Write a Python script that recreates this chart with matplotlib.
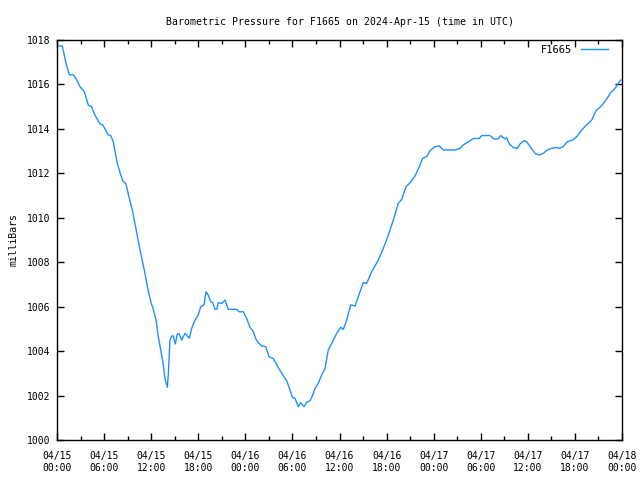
import datetime as dt
import numpy as np
import matplotlib
matplotlib.use("Agg")
import matplotlib.pyplot as plt
import matplotlib.dates as mdates

# hours since 2024-04-15 00:00 UTC and pressure in millibars
hours = [0.25, 0.38, 0.68, 1.15, 1.57, 2.08, 2.38, 2.93, 3.48, 3.99, 4.42, 4.72,
         5.48, 5.82, 6.54, 6.84, 7.17, 7.68, 8.12, 8.37, 8.79, 9.21, 9.60, 10.58,
         11.21, 11.64, 12.07, 12.20, 12.62, 12.91, 13.22, 13.55, 13.76, 14.06,
         14.18, 14.31, 14.40, 14.62, 14.82, 15.08, 15.33, 15.59, 15.89, 16.31,
         16.86, 17.17, 17.59, 18.01, 18.31, 18.73, 18.99, 19.28, 19.59, 19.84,
         20.14, 20.35, 20.56, 20.99, 21.41, 21.83, 22.90, 23.23, 23.74, 24.17,
         24.60, 25.02, 25.36, 25.65, 26.09, 26.60, 27.02, 27.56, 28.00, 28.64,
         29.27, 29.69, 29.99, 30.33, 30.75, 31.06, 31.48, 31.82, 32.24, 32.59,
         32.88, 33.30, 33.73, 34.15, 34.57, 35.01, 35.64, 36.15, 36.49, 36.92,
         37.43, 37.98, 38.61, 39.03, 39.47, 40.10, 40.95, 41.58, 42.22, 42.86,
         43.49, 43.93, 44.48, 44.99, 45.62, 46.17, 46.60, 47.11, 47.53, 48.17,
         48.72, 49.23, 50.72, 51.36, 51.78, 52.42, 53.05, 53.82, 54.12, 55.18,
         55.69, 56.24, 56.54, 57.09, 57.31, 57.64, 58.15, 58.66, 59.00, 59.51,
         59.86, 60.28, 60.92, 61.46, 61.97, 62.48, 63.04, 63.68, 64.01, 64.52,
         65.03, 65.72, 66.23, 66.87, 67.50, 68.14, 68.69, 69.29, 69.96, 70.56,
         71.11, 71.53, 71.84]
pressure = [1017.75, 1017.73, 1017.73, 1016.95, 1016.43, 1016.43, 1016.28, 1015.90,
            1015.67, 1015.07, 1015.00, 1014.70, 1014.22, 1014.18, 1013.73, 1013.70,
            1013.42, 1012.45, 1011.93, 1011.67, 1011.52, 1010.88, 1010.35, 1008.55,
            1007.50, 1006.67, 1006.08, 1005.97, 1005.40, 1004.65, 1004.05, 1003.37,
            1002.77, 1002.37, 1002.93, 1003.90, 1004.50, 1004.68, 1004.68, 1004.32,
            1004.77, 1004.77, 1004.50, 1004.80, 1004.58, 1005.03, 1005.40, 1005.63,
            1006.00, 1006.08, 1006.67, 1006.52, 1006.22, 1006.18, 1005.88, 1005.88,
            1006.18, 1006.15, 1006.30, 1005.88, 1005.88, 1005.77, 1005.77, 1005.47,
            1005.07, 1004.87, 1004.53, 1004.38, 1004.23, 1004.20, 1003.75, 1003.66,
            1003.38, 1003.00, 1002.67, 1002.25, 1001.92, 1001.88, 1001.50, 1001.68,
            1001.50, 1001.70, 1001.77, 1002.02, 1002.32, 1002.55, 1002.93, 1003.22,
            1004.05, 1004.35, 1004.80, 1005.07, 1004.98, 1005.40, 1006.08, 1006.03,
            1006.67, 1007.08, 1007.05, 1007.57, 1008.10, 1008.62, 1009.22, 1009.90,
            1010.65, 1010.83, 1011.40, 1011.58, 1011.88, 1012.30, 1012.68, 1012.75,
            1013.02, 1013.20, 1013.23, 1013.05, 1013.05, 1013.12, 1013.28, 1013.42,
            1013.57, 1013.57, 1013.70, 1013.70, 1013.55, 1013.55, 1013.70, 1013.55,
            1013.60, 1013.32, 1013.17, 1013.12, 1013.32, 1013.47, 1013.42, 1013.20,
            1012.90, 1012.82, 1012.90, 1013.05, 1013.12, 1013.17, 1013.12, 1013.20,
            1013.42, 1013.50, 1013.65, 1013.95, 1014.18, 1014.40, 1014.82, 1015.00,
            1015.30, 1015.63, 1015.82, 1016.05, 1016.20]

station = "F1665"
start = dt.datetime(2024, 4, 15)
end = dt.datetime(2024, 4, 18)
times = [start + dt.timedelta(hours=h) for h in hours]

plt.rcParams['font.family'] = ['DejaVu Sans Mono']
plt.rcParams['font.size'] = 7

fig = plt.figure(figsize=(6.4, 4.8), dpi=100)
ax = fig.add_axes([57 / 640, 40 / 480, 565 / 640, 400 / 480])

ax.plot(times, pressure, color='#1e90ff', lw=1.0, label=station)

ax.set_xlim(start, end)
ax.set_ylim(1000, 1018)
ax.set_yticks(np.arange(1000, 1019, 2))
ax.xaxis.set_major_locator(mdates.HourLocator(byhour=[0, 6, 12, 18]))
ax.xaxis.set_minor_locator(mdates.HourLocator(byhour=[3, 9, 15, 21]))
ax.xaxis.set_major_formatter(mdates.DateFormatter('%m/%d\n%H:%M'))

ax.tick_params(which='both', direction='in', top=True, right=True, width=1)
ax.tick_params(which='major', length=5)
ax.tick_params(which='minor', length=3)
ax.tick_params(axis='x', pad=8)
ax.tick_params(axis='y', pad=5)
for s in ax.spines.values():
    s.set_linewidth(1)

ax.set_title("Barometric Pressure for %s on 2024-Apr-15 (time in UTC)" % station,
             fontsize=7.1, pad=11)
ax.set_ylabel("milliBars", labelpad=6)

ax.legend(loc='upper right', bbox_to_anchor=(0.986, 1.003), frameon=False,
          markerfirst=False, handlelength=2.6, borderaxespad=0.2, fontsize=7.5)

plt.savefig("out.png", dpi=100)
